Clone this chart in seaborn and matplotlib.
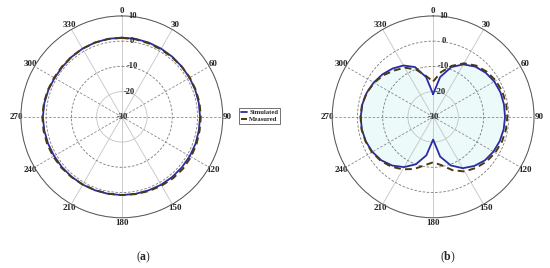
import numpy as np
import pandas as pd
import matplotlib
matplotlib.use("Agg")
import matplotlib.pyplot as plt
import matplotlib.transforms as mtransforms
import seaborn as sns

# angles in degrees (0 = top, clockwise)
angles = list(range(0, 361, 10))

# (a) nearly omnidirectional pattern, dB
sim_a = [1.4, 1.4, 1.3, 1.2, 1.1, 1.0, 1.0, 1.0, 1.0, 1.0, 1.0, 1.1, 1.1, 1.1,
         1.1, 1.1, 1.0, 1.0, 1.0, 1.0, 1.0, 1.0, 1.0, 1.0, 1.0, 1.1, 1.2, 1.3,
         1.2, 1.0, 0.8, 0.8, 1.0, 1.2, 1.3, 1.4, 1.4]
meas_a = [1.3, 1.2, 1.0, 0.9, 0.9, 1.0, 1.1, 1.2, 1.3, 1.3, 1.3, 1.5, 1.7, 1.8,
          1.7, 1.5, 1.3, 1.1, 1.0, 0.9, 0.9, 1.0, 1.1, 1.3, 1.4, 1.5, 1.5, 1.5,
          1.4, 1.2, 1.0, 1.0, 1.1, 1.2, 1.3, 1.3, 1.3]

# (b) figure-eight pattern, dB
sim_b = [-21, -14, -9, -6, -4, -2.8, -2.0, -1.6, -1.5, -1.5, -1.6, -1.9, -2.4,
         -3.2, -4.6, -6.5, -9.5, -14, -21, -14.5, -10, -7, -4.8, -3.2, -2.2,
         -1.6, -1.3, -1.3, -1.5, -2.0, -2.8, -3.8, -5.0, -6.5, -9, -14, -21]
meas_b = [-16, -12, -8.5, -5.5, -3.5, -2.2, -1.3, -0.8, -0.6, -0.6, -0.7, -1.0,
          -1.6, -2.4, -3.6, -5.0, -7.5, -10.5, -12, -10.5, -8, -6, -4.2, -2.9,
          -2.0, -1.5, -1.2, -1.2, -1.4, -2.0, -3.0, -4.3, -6.0, -7.5, -10, -13.5, -16]

r_ticks = [-30, -20, -10, 0, 10]
theta_ticks = list(range(0, 360, 30))

sns.set_theme(style="white")
plt.rcParams["font.family"] = ["Liberation Serif", "DejaVu Serif"]
plt.rcParams["mathtext.fontset"] = "custom"
plt.rcParams["mathtext.rm"] = "Liberation Serif"
plt.rcParams["mathtext.bf"] = "Liberation Serif:bold"

BLUE = "#2a2ca6"
MEAS = "#4a3a12"

fig = plt.figure(figsize=(5.5, 2.68), dpi=100)
ax_a = fig.add_axes([0.038, 0.187, 0.367, 0.754], projection="polar")
ax_b = fig.add_axes([0.604, 0.187, 0.367, 0.754], projection="polar")


def style_polar(ax):
    ax.set_theta_zero_location("N")
    ax.set_theta_direction(-1)
    ax.set_rlim(-30, 10)
    ax.set_thetagrids(theta_ticks, [str(t) for t in theta_ticks],
                      fontsize=6.5, fontweight="bold", color="#222222")
    ax.tick_params(axis="x", pad=-3.5, size=0)
    ax.set_yticks(r_ticks)
    ax.set_yticklabels([])
    ax.grid(True)
    for i, gl in enumerate(ax.xaxis.get_gridlines()):
        t = theta_ticks[i]
        if t in (60, 120, 240, 300, 90, 270):
            gl.set_color("#8a8a8a")
            gl.set_linestyle((0, (3, 2)))
        else:
            gl.set_color("#c4c4c4")
            gl.set_linestyle("-")
        gl.set_linewidth(0.6)
    for r, gl in zip(r_ticks, ax.yaxis.get_gridlines()):
        if r in (-10, 0):
            gl.set_color("#7a7a7a")
            gl.set_linestyle((0, (3, 2)))
        else:
            gl.set_color("#c4c4c4")
            gl.set_linestyle("-")
        gl.set_linewidth(0.6)
    ax.spines["polar"].set_color("#555555")
    ax.spines["polar"].set_linewidth(0.7)
    for r in r_ticks:
        if r == -30:
            tr = ax.transData
        else:
            dx = 5 if r == -20 else 7.5
            tr = mtransforms.offset_copy(ax.transData, fig=fig, x=dx, y=0, units="points")
        ax.text(0, r, str(r), transform=tr, ha="center", va="center",
                fontsize=6, fontweight="bold", color="#222222", zorder=5)


for ax, sim, meas, lab in [(ax_a, sim_a, meas_a, "a"), (ax_b, sim_b, meas_b, "b")]:
    df = pd.DataFrame({"theta": np.deg2rad(angles), "sim": sim, "meas": meas})
    if lab == "b":
        ax.fill(df["theta"], df["sim"], color="#e6f9f9", alpha=0.7, zorder=0)
    sns.lineplot(data=df, x="theta", y="sim", ax=ax, sort=False, estimator=None,
                 color=BLUE, lw=1.3, label="Simulated", legend=False, zorder=3)
    sns.lineplot(data=df, x="theta", y="meas", ax=ax, sort=False, estimator=None,
                 color=MEAS, lw=1.4, dashes=False, label="Measured", legend=False,
                 zorder=4)
    ax.lines[-1].set_linestyle((0, (3.5, 2.2)))
    style_polar(ax)
    ax.set_xlabel("")
    ax.set_ylabel("")

handles, labels = ax_a.get_legend_handles_labels()
leg = fig.legend(handles, labels, loc="upper left", bbox_to_anchor=(239 / 550, 1 - 108 / 268),
                 fontsize=4.8, frameon=True, fancybox=False, edgecolor="#333333",
                 handlelength=1.0, handletextpad=0.3, borderpad=0.25, labelspacing=0.15,
                 borderaxespad=0)
leg.get_frame().set_linewidth(0.6)
for t in leg.get_texts():
    t.set_fontweight("bold")

fig.text(144 / 550, 1 - 257 / 268, r"($\mathbf{a}$)", ha="center", va="center", fontsize=8.5)
fig.text(448 / 550, 1 - 257 / 268, r"($\mathbf{b}$)", ha="center", va="center", fontsize=8.5)

fig.savefig("out.png", dpi=100, facecolor="white")
